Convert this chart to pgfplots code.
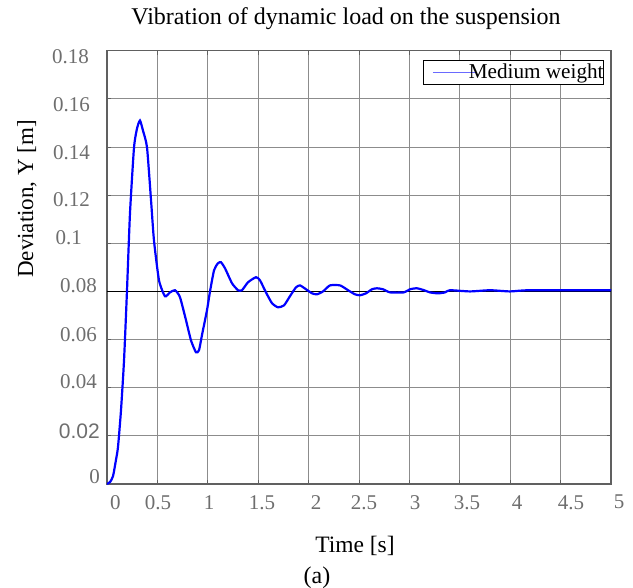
\documentclass[border=0pt]{standalone}
\usepackage{pgfplots}
\pgfplotsset{compat=1.18}
\usepackage{fontspec}
\setmainfont{Liberation Serif}
\newfontfamily\lsans{Liberation Sans}
\definecolor{tickgray}{HTML}{6E6E6E}
\definecolor{gridgray}{HTML}{8C8C8C}
\definecolor{framegray}{HTML}{606060}
\definecolor{legblue}{HTML}{6A6AFF}
\newcommand{\yl}[3]{\raisebox{#2}[0pt][0pt]{#3}\kern#1}
\newcommand{\xl}[2]{\makebox[0pt][c]{\kern#1\kern#1#2}}
\begin{document}
\begin{tikzpicture}
\useasboundingbox (-107bp,-104bp) rectangle (526bp,484bp);
\begin{axis}[
  scale only axis, width=504bp, height=433.3bp,
  xmin=0, xmax=5, ymin=0, ymax=0.18,
  xtick={0,0.5,1,1.5,2,2.5,3,3.5,4,4.5,5},
  xticklabels={\xl{8.3bp}{0},\xl{0.6bp}{0.5},\xl{1.2bp}{1},\xl{3.8bp}{1.5},\xl{7.4bp}{2},\xl{5bp}{2.5},\xl{5.6bp}{3},\xl{7.2bp}{3.5},\xl{6.8bp}{4},\xl{10.4bp}{4.5},\xl{8bp}{5}},
  ytick={0,0.02,0.04,0.06,0.08,0.1,0.12,0.14,0.16,0.18},
  yticklabels={\yl{7bp}{0.9bp}{0},\yl{7bp}{-2.5bp}{\lsans 0.02},\yl{10bp}{-1.1bp}{0.04},\yl{10bp}{-2.1bp}{0.06},\yl{10bp}{-1.4bp}{0.08},\yl{25bp}{-1.1bp}{0.1},\yl{17bp}{-11.8bp}{0.12},\yl{17bp}{-12.1bp}{0.14},\yl{17bp}{-12.2bp}{0.16},\yl{18bp}{-12.9bp}{0.18}},
  grid=major,
  major grid style={gridgray, line width=0.8bp},
  axis line style={framegray, line width=1.2bp},
  tick style={framegray, line width=0.8bp},
  major tick length=4bp,
  ticklabel style={font=\fontsize{21bp}{25bp}\selectfont, text=tickgray},
  xticklabel style={anchor=north, inner sep=0pt, yshift=-11bp},
  yticklabel style={anchor=east, inner sep=0pt},
  title={Vibration of dynamic load on the suspension},
  title style={at={(axis description cs:0.4742,1.0478)}, anchor=base, inner sep=0pt, font=\fontsize{24bp}{29bp}\selectfont},
  xlabel={Time [s]},
  xlabel style={at={(axis description cs:0.492,-0.1592)}, anchor=base, inner sep=0pt, font=\fontsize{23.5bp}{28bp}\selectfont},
  ylabel={Deviation, Y [m]},
  ylabel style={at={(axis description cs:-0.1468,0.658)}, anchor=base, inner sep=0pt, font=\fontsize{23bp}{28bp}\selectfont},
  legend cell align=left,
  legend style={at={(axis description cs:0.9861,0.9785)}, anchor=north east, draw=black, line width=0.8bp, fill=white, inner sep=0pt, font=\fontsize{21.2bp}{25bp}\selectfont, nodes={inner sep=0pt}, cells={anchor=base west}, /tikz/every even column/.append style={column sep=0pt}},
  legend image code/.code={\path[draw=none, fill=none] (-9bp,-6bp) rectangle (36bp,18bp); \draw[legblue, line width=1bp, overlay] (0bp,6bp) -- (43bp,6bp);},
]
\addplot[black, line width=0.8bp, forget plot] coordinates {(0,0.08) (5,0.08)};
\addplot[blue, line width=2.2bp, smooth, tension=0.35] table {
t y
0.000 0.0000
0.030 0.0008
0.060 0.0033
0.089 0.0100
0.109 0.0153
0.139 0.0307
0.169 0.0514
0.198 0.0800
0.228 0.1124
0.268 0.1398
0.298 0.1477
0.327 0.1510
0.357 0.1468
0.397 0.1398
0.437 0.1178
0.466 0.1012
0.516 0.0846
0.575 0.0780
0.625 0.0796
0.675 0.0805
0.724 0.0776
0.784 0.0680
0.833 0.0597
0.883 0.0547
0.913 0.0556
0.942 0.0618
0.992 0.0722
1.022 0.0800
1.062 0.0888
1.101 0.0917
1.131 0.0921
1.171 0.0896
1.240 0.0834
1.300 0.0805
1.339 0.0805
1.399 0.0838
1.478 0.0859
1.518 0.0846
1.577 0.0796
1.637 0.0751
1.696 0.0734
1.756 0.0742
1.815 0.0780
1.875 0.0817
1.915 0.0825
1.974 0.0809
2.034 0.0792
2.083 0.0788
2.143 0.0800
2.212 0.0825
2.312 0.0825
2.391 0.0805
2.460 0.0788
2.510 0.0784
2.569 0.0792
2.629 0.0809
2.679 0.0813
2.738 0.0809
2.808 0.0796
2.946 0.0796
3.006 0.0809
3.075 0.0813
3.145 0.0805
3.204 0.0796
3.284 0.0792
3.353 0.0796
3.403 0.0805
3.601 0.0800
3.800 0.0805
3.998 0.0800
4.196 0.0805
5.000 0.0805
};
\addlegendentry{Medium weight}
\end{axis}
\node[anchor=base, inner sep=0pt, font=\fontsize{24bp}{29bp}\selectfont] at (210bp,-99.5bp) {(a)};
\end{tikzpicture}
\end{document}
